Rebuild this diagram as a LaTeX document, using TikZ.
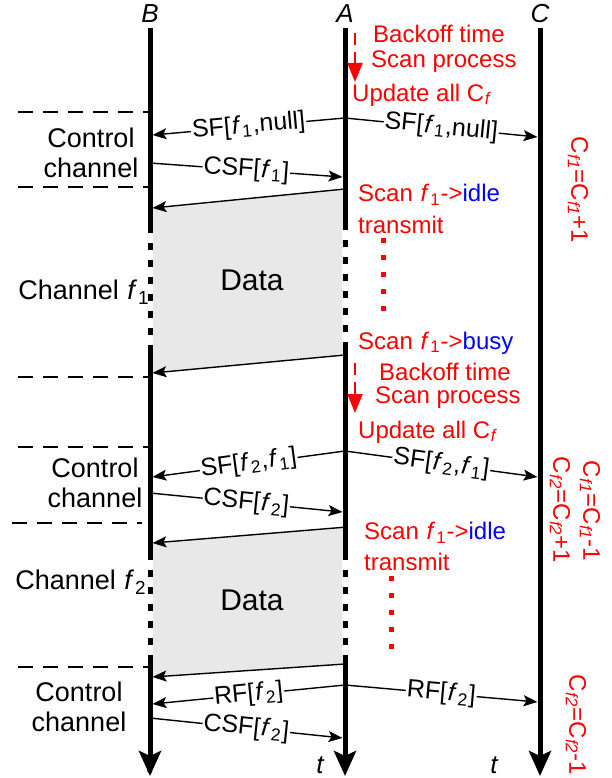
\documentclass[tikz,border=0pt]{standalone}
\usepackage{fontspec}
\setmainfont{Liberation Sans}
\usetikzlibrary{arrows.meta}
\definecolor{datagray}{RGB}{232,232,232}
\newcommand{\freq}[1]{\kern1pt\textit{f}\kern1pt\textsubscript{#1}\kern0.5pt}
\newcommand{\cnt}[1]{C\kern0.5pt\textsubscript{\textit{#1}}}
\tikzset{
  head/.style={inner sep=0pt,font=\fontsize{26}{30}\selectfont\itshape},
  life/.style={line width=5pt},
  lifeend/.style={life,-{Stealth[length=25pt,width=22pt,inset=5pt]}},
  gap/.style={white,line width=5.6pt,dash pattern=on 10pt off 7pt,dash phase=10pt},
  msg/.style={line width=1.4pt,-{Stealth[length=14pt,width=11pt,inset=3pt]}},
  msglabel/.style={sloped,fill=white,inner sep=1pt,font=\fontsize{25}{30}\selectfont},
  sep/.style={line width=1.4pt,dash pattern=on 15pt off 10pt},
  note/.style={red,anchor=west,inner sep=0pt,font=\fontsize{24}{28}\selectfont},
  side/.style={align=center,inner sep=0pt,font=\fontsize{27}{30}\selectfont},
  wait/.style={red,line width=2pt,dash pattern=on 12pt off 7pt,-{Triangle[length=19pt,width=15pt]}},
  dots/.style={red,line width=5pt,dash pattern=on 5pt off 12pt},
  count/.style={red,rotate=-90,inner sep=0pt,font=\fontsize{24}{28}\selectfont},
  datalabel/.style={inner sep=0pt,font=\fontsize{30}{36}\selectfont}
}
\begin{document}
\begin{tikzpicture}[x=1pt,y=-1pt]
\useasboundingbox (0,0) rectangle (612,778);

\fill[datagray] (345,189) -- (150,208) -- (150,373) -- (345,355) -- cycle;
\fill[datagray] (347,527) -- (150,543) -- (150,677) -- (345,664) -- cycle;
\node[datalabel] (data1) at (252,280) {Data};
\node[datalabel] (data2) at (252,600) {Data};

\foreach \y in {112,187,377,447,667}
  \draw[sep] (18,\y) -- (148,\y);
\draw[sep] (12,523) -- (142,523);

\node[head] (B) at (150,14) {B};
\node[head] (A) at (345,14) {A};
\node[head] (C) at (540,14) {C};
\node[head] (tB) at (150,765) {t};
\node[head] (tA) at (320,765) {t};
\node[head] (tC) at (494,765) {t};

\coordinate (B0) at (150,28);
\coordinate (B1) at (150,776);
\coordinate (A0) at (345,28);
\coordinate (A1) at (345,776);
\coordinate (C0) at (540,28);
\coordinate (C1) at (540,776);
\draw[lifeend] (B0) -- (B1);
\draw[lifeend] (A0) -- (A1);
\draw[lifeend] (C0) -- (C1);
\draw[gap] (150,226) -- (150,347);
\draw[gap] (150,553) -- (150,657);
\draw[gap] (345,223) -- (345,345);
\draw[gap] (345,553) -- (345,660);

\coordinate (sf1) at (345,118);
\coordinate (sf1b) at (152.5,135);
\coordinate (sf1c) at (537.5,137);
\coordinate (csf1) at (150,163);
\coordinate (csf1a) at (342.5,177);
\coordinate (d1) at (345,189);
\coordinate (d1b) at (152.5,208);
\coordinate (d2) at (345,355);
\coordinate (d2b) at (152.5,373);
\coordinate (sf2) at (345,451);
\coordinate (sf2b) at (152.5,477);
\coordinate (sf2c) at (537.5,477);
\coordinate (csf2) at (150,493);
\coordinate (csf2a) at (342.5,512);
\coordinate (d3) at (347,527);
\coordinate (d3b) at (152.5,543);
\coordinate (d4) at (345,664);
\coordinate (d4b) at (152.5,677);
\coordinate (rf) at (345,685);
\coordinate (rfb) at (152.5,704);
\coordinate (rfc) at (537.5,702);
\coordinate (csf3) at (150,718);
\coordinate (csf3a) at (342.5,738);

\draw[msg] (sf1) -- node[msglabel] (l1) {SF[\freq1,null]} (sf1b);
\draw[msg] (sf1) -- node[msglabel] (l2) {SF[\freq1,null]} (sf1c);
\draw[msg] (csf1) -- node[msglabel] (l3) {CSF[\freq1]} (csf1a);
\draw[msg] (d1) -- (d1b);
\draw[msg] (d2) -- (d2b);
\draw[msg] (sf2) -- node[msglabel] (l4) {SF[\freq2,\freq1]} (sf2b);
\draw[msg] (sf2) -- node[msglabel] (l5) {SF[\freq2,\freq1]} (sf2c);
\draw[msg] (csf2) -- node[msglabel] (l6) {CSF[\freq2]} (csf2a);
\draw[msg] (d3) -- (d3b);
\draw[msg] (d4) -- (d4b);
\draw[msg] (rf) -- node[msglabel] (l7) {RF[\freq2]} (rfb);
\draw[msg] (rf) -- node[msglabel] (l8) {RF[\freq2]} (rfc);
\draw[msg] (csf3) -- node[msglabel] (l9) {CSF[\freq2]} (csf3a);

\node[side] (ctrl1) at (91,153) {Control\\channel};
\node[side] (chan1) at (84,292) {Channel \freq1};
\node[side] (ctrl2) at (95,483) {Control\\channel};
\node[side] (chan2) at (81,582) {Channel \freq2};
\node[side] (ctrl3) at (79,707) {Control\\channel};

\coordinate (w1) at (355,33);
\coordinate (w1e) at (355,82);
\coordinate (w2) at (355,363);
\coordinate (w2e) at (355,413);
\draw[wait] (w1) -- (w1e);
\draw[wait] (w2) -- (w2e);
\node[note] (n1) at (373,34) {Backoff time};
\node[note] (n2) at (371,62) {Scan process};
\node[note] (n3) at (352,95) {Update all \cnt{f}};
\node[note] (n4) at (358,195) {Scan \freq1->\textcolor{blue}{idle}};
\node[note] (n5) at (358,225) {transmit};
\draw[dots] (383,238) -- (383,312);
\node[note] (n6) at (358,343) {Scan \freq1->\textcolor{blue}{busy}};
\node[note] (n7) at (379,372) {Backoff time};
\node[note] (n8) at (375,398) {Scan process};
\node[note] (n9) at (358,432) {Update all \cnt{f}};
\node[note] (n10) at (364,533) {Scan \freq1->\textcolor{blue}{idle}};
\node[note] (n11) at (364,562) {transmit};
\draw[dots] (391,576) -- (391,650);

\node[count] (c1) at (578,190) {\cnt{f1}=\cnt{f1}+1};
\node[count] (c2) at (590,511) {\cnt{f1}=\cnt{f1}-1};
\node[count] (c3) at (560,510) {\cnt{f2}=\cnt{f2}+1};
\node[count] (c4) at (576,725) {\cnt{f2}=\cnt{f2}-1};
\end{tikzpicture}
\end{document}
